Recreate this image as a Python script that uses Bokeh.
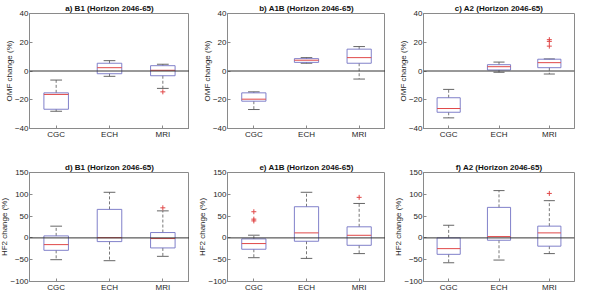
import numpy as np
from bokeh.plotting import figure
from bokeh.layouts import gridplot
from bokeh.models import FixedTicker, Span
from bokeh.embed import file_html
from bokeh.resources import INLINE

models = ["CGC", "ECH", "MRI"]

# ---- OMF change (%) ----
omf_b1_lower = [-28.0, -3.7, -12.1]
omf_b1_q1 = [-26.6, -1.9, -3.3]
omf_b1_median = [-16.3, 2.3, 0.5]
omf_b1_q3 = [-15.2, 5.4, 3.7]
omf_b1_upper = [-6.3, 7.2, 4.7]
omf_b1_outliers = [("MRI", -14.5)]

omf_a1b_lower = [-26.8, 5.4, -5.6]
omf_a1b_q1 = [-21.0, 6.0, 5.4]
omf_a1b_median = [-19.6, 7.5, 9.3]
omf_a1b_q3 = [-15.2, 8.6, 15.2]
omf_a1b_upper = [-14.5, 9.3, 17.0]
omf_a1b_outliers = []

omf_a2_lower = [-32.6, -0.9, -2.1]
omf_a2_q1 = [-28.7, 0.7, 2.3]
omf_a2_median = [-26.1, 3.0, 5.8]
omf_a2_q3 = [-18.6, 4.4, 8.2]
omf_a2_upper = [-12.8, 6.2, 8.4]
omf_a2_outliers = [("MRI", 21.8), ("MRI", 20.6), ("MRI", 17.3)]

# ---- HF2 change (%) ----
hf2_b1_lower = [-50.0, -52.3, -42.3]
hf2_b1_q1 = [-28.5, -8.5, -23.0]
hf2_b1_median = [-15.4, 0.5, -1.5]
hf2_b1_q3 = [4.6, 65.4, 12.3]
hf2_b1_upper = [26.9, 104.6, 62.0]
hf2_b1_outliers = [("MRI", 69.0)]

hf2_a1b_lower = [-45.4, -47.0, -36.0]
hf2_a1b_q1 = [-26.0, -7.7, -17.0]
hf2_a1b_median = [-13.0, 11.5, 6.0]
hf2_a1b_q3 = [-2.3, 71.5, 25.4]
hf2_a1b_upper = [6.2, 104.6, 79.0]
hf2_a1b_outliers = [("CGC", 60.0), ("CGC", 43.0), ("CGC", 39.0), ("MRI", 93.0)]

hf2_a2_lower = [-57.0, -50.8, -36.0]
hf2_a2_q1 = [-37.7, -5.4, -19.0]
hf2_a2_median = [-24.6, 3.0, 11.5]
hf2_a2_q3 = [0.0, 70.0, 27.0]
hf2_a2_upper = [29.0, 108.5, 85.4]
hf2_a2_outliers = [("MRI", 102.0)]

omf_ticks = [-40, -20, 0, 20, 40]
hf2_ticks = [-100, -50, 0, 50, 100, 150]

FONT = "Liberation Sans"
BOX = "#7373c4"
MED = "#e04848"
WHISK = "#555555"
AX = "#8a8a8a"
TXT = "#262626"
BOXW = 0.46
CAPW = 0.22


def panel(title, ylabel, yr, yticks, lo, q1, med, q3, hi, outs,
          width, height, bl, br, bt, bb):
    p = figure(width=width, height=height, x_range=(0.5, 3.5), y_range=yr,
               output_backend="svg", toolbar_location=None,
               min_border_left=bl, min_border_right=br,
               min_border_top=bt, min_border_bottom=bb)
    p.title.text = title
    p.title.align = "center"
    p.title.text_font = FONT
    p.title.text_font_size = "8px"
    p.title.text_font_style = "bold"
    p.title.text_color = "#111111"
    p.title.standoff = 1
    p.xgrid.visible = False
    p.ygrid.visible = False
    p.outline_line_color = AX
    p.outline_line_width = 1

    p.xaxis.ticker = FixedTicker(ticks=list(range(1, len(models) + 1)))
    p.xaxis.major_label_overrides = {i + 1: m for i, m in enumerate(models)}
    p.yaxis.ticker = FixedTicker(ticks=yticks)
    p.yaxis.axis_label = ylabel
    for ax in (p.xaxis, p.yaxis):
        ax.axis_line_color = AX
        ax.major_tick_line_color = AX
        ax.major_tick_in = 3
        ax.major_tick_out = 0
        ax.minor_tick_line_color = None
        ax.major_label_text_font = FONT
        ax.major_label_text_font_size = "8px"
        ax.major_label_text_color = TXT
        ax.major_label_standoff = 1
        ax.axis_label_text_font = FONT
        ax.axis_label_text_font_size = "8px"
        ax.axis_label_text_font_style = "normal"
        ax.axis_label_text_color = TXT
        ax.axis_label_standoff = -2

    p.add_layout(Span(location=0, dimension="width", line_color="#333333", line_width=1))

    x = np.arange(1, len(models) + 1, dtype=float)
    lo, q1, med, q3, hi = map(np.asarray, (lo, q1, med, q3, hi))
    # whiskers
    p.segment(x0=x, y0=q3, x1=x, y1=hi, line_color=WHISK, line_dash="3 2", line_width=0.8)
    p.segment(x0=x, y0=q1, x1=x, y1=lo, line_color=WHISK, line_dash="3 2", line_width=0.8)
    # caps
    p.segment(x0=x - CAPW / 2, y0=hi, x1=x + CAPW / 2, y1=hi, line_color=WHISK, line_width=0.9)
    p.segment(x0=x - CAPW / 2, y0=lo, x1=x + CAPW / 2, y1=lo, line_color=WHISK, line_width=0.9)
    # boxes
    p.quad(left=x - BOXW / 2, right=x + BOXW / 2, bottom=q1, top=q3,
           fill_color=None, line_color=BOX, line_width=0.9)
    # medians
    p.segment(x0=x - BOXW / 2, y0=med, x1=x + BOXW / 2, y1=med, line_color=MED, line_width=1)
    # outliers
    if outs:
        ox = [models.index(m) + 1 for m, v in outs]
        oy = [v for m, v in outs]
        p.scatter(ox, oy, marker="cross", size=5, line_color=MED, line_width=1)
    return p


W = [198, 196, 192]
BL = [38, 38, 38]
BR = [0, 0, 3]
H1, H2 = 144, 153

row1 = [
    panel("a) B1 (Horizon 2046-65)", "OMF change (%)", (-40, 40), omf_ticks,
          omf_b1_lower, omf_b1_q1, omf_b1_median, omf_b1_q3, omf_b1_upper, omf_b1_outliers,
          W[0], H1, BL[0], BR[0], 13, 16),
    panel("b) A1B (Horizon 2046-65)", "OMF change (%)", (-40, 40), omf_ticks,
          omf_a1b_lower, omf_a1b_q1, omf_a1b_median, omf_a1b_q3, omf_a1b_upper, omf_a1b_outliers,
          W[1], H1, BL[1], BR[1], 13, 16),
    panel("c) A2 (Horizon 2046-65)", "OMF change (%)", (-40, 40), omf_ticks,
          omf_a2_lower, omf_a2_q1, omf_a2_median, omf_a2_q3, omf_a2_upper, omf_a2_outliers,
          W[2], H1, BL[2], BR[2], 13, 16),
]
row2 = [
    panel("d) B1 (Horizon 2046-65)", "HF2 change (%)", (-100, 150), hf2_ticks,
          hf2_b1_lower, hf2_b1_q1, hf2_b1_median, hf2_b1_q3, hf2_b1_upper, hf2_b1_outliers,
          W[0], H2, BL[0], BR[0], 28, 16),
    panel("e) A1B (Horizon 2046-65)", "HF2 change (%)", (-100, 150), hf2_ticks,
          hf2_a1b_lower, hf2_a1b_q1, hf2_a1b_median, hf2_a1b_q3, hf2_a1b_upper, hf2_a1b_outliers,
          W[1], H2, BL[1], BR[1], 28, 16),
    panel("f) A2 (Horizon 2046-65)", "HF2 change (%)", (-100, 150), hf2_ticks,
          hf2_a2_lower, hf2_a2_q1, hf2_a2_median, hf2_a2_q3, hf2_a2_upper, hf2_a2_outliers,
          W[2], H2, BL[2], BR[2], 28, 16),
]

grid = gridplot([row1, row2], toolbar_location=None)
grid.styles = {"margin-left": "-9px"}

open("out.html", "w").write(file_html(grid, INLINE))
